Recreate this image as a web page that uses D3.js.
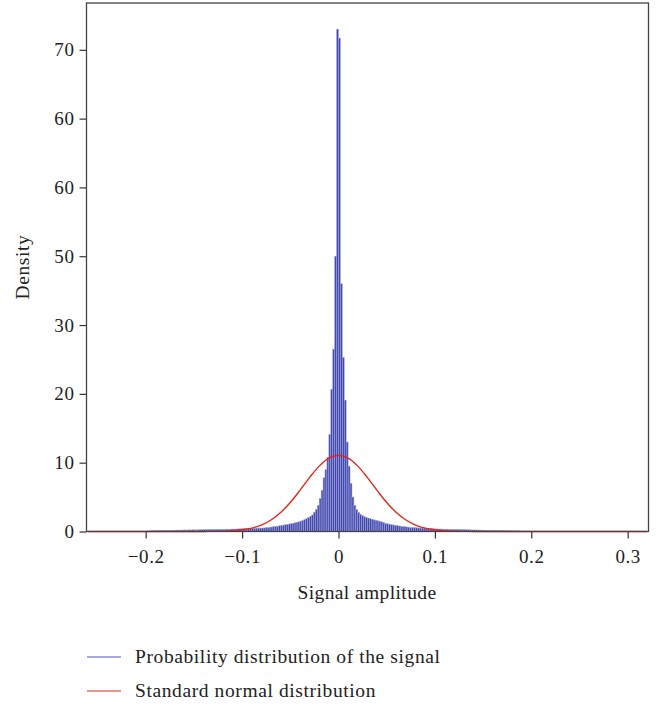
<!DOCTYPE html>
<html>
<head>
<meta charset="utf-8">
<script src="https://cdn.jsdelivr.net/npm/d3@7"></script>
<style>
  html, body { margin: 0; padding: 0; background: #fff; }
  svg { display: block; font-family: "Liberation Serif", "Times New Roman", serif; }
</style>
</head>
<body>
<div id="chart"></div>
<script>
// histogram bins: width 0.002, first bin starts at -0.2
const binStart = -0.2;
const binWidth = 0.002;
const density = [
  0.05, 0.08, 0.1, 0.12, 0.1, 0.14, 0.12, 0.15, 0.13, 0.16,
  0.15, 0.17, 0.16, 0.18, 0.17, 0.19, 0.2, 0.18, 0.21, 0.2,
  0.22, 0.2, 0.23, 0.22, 0.24, 0.23, 0.25, 0.24, 0.26, 0.25,
  0.27, 0.26, 0.28, 0.27, 0.29, 0.3, 0.28, 0.31, 0.3, 0.32,
  0.31, 0.33, 0.34, 0.32, 0.35, 0.36, 0.34, 0.37, 0.38, 0.39,
  0.4, 0.42, 0.41, 0.44, 0.45, 0.46, 0.46, 0.48, 0.49, 0.5,
  0.5, 0.52, 0.55, 0.58, 0.62, 0.66, 0.7, 0.74, 0.78, 0.83,
  0.88, 0.93, 0.98, 1.03, 1.08, 1.14, 1.2, 1.27, 1.33, 1.4,
  1.5, 1.6, 1.72, 1.85, 2.0, 2.2, 2.4, 2.8, 3.2, 3.8,
  4.8, 6.0, 7.8, 9.0, 10.8, 14.1, 20.7, 26.5, 40, 73,
  71.7, 36, 25.3, 19.1, 13.0, 9.5, 7.0, 5.0, 3.8, 3.2,
  2.8, 2.5, 2.3, 2.15, 2.05, 1.95, 1.85, 1.78, 1.7, 1.62,
  1.55, 1.48, 1.4, 1.3, 1.2, 1.12, 1.06, 1.0, 0.95, 0.9,
  0.85, 0.8, 0.75, 0.72, 0.69, 0.66, 0.63, 0.6, 0.58, 0.56,
  0.54, 0.52, 0.5, 0.48, 0.46, 0.45, 0.43, 0.42, 0.4, 0.38,
  0.37, 0.36, 0.35, 0.35, 0.34, 0.33, 0.33, 0.32, 0.31, 0.3,
  0.3, 0.29, 0.28, 0.28, 0.27, 0.26, 0.25, 0.25, 0.24, 0.23,
  0.22, 0.22, 0.21, 0.2, 0.2, 0.19, 0.18, 0.18, 0.17, 0.16,
  0.16, 0.15, 0.15, 0.14, 0.13, 0.13, 0.12, 0.12, 0.11, 0.1,
  0.1, 0.09, 0.09, 0.08, 0.08, 0.07, 0.07, 0.06, 0.06, 0.05,
  0.05, 0.05, 0.04, 0.04, 0.03, 0.03, 0.03, 0.02, 0.02, 0.02
];

// normal curve
const curveX = [
  -0.26, -0.2, -0.15, -0.14, -0.13, -0.12, -0.11, -0.1, -0.09, -0.08, -0.07, -0.06,
  -0.05, -0.04, -0.03, -0.02, -0.01, 0, 0.01, 0.02, 0.03, 0.04, 0.05, 0.06,
  0.07, 0.08, 0.09, 0.1, 0.11, 0.12, 0.13, 0.14, 0.15, 0.2, 0.32
];
const curveY = [
  0, 0, 0, 0.01, 0.02, 0.05, 0.11, 0.25, 0.49, 0.94, 1.67, 2.76,
  4.22, 5.98, 7.83, 9.5, 10.66, 11.08, 10.66, 9.5, 7.83, 5.98, 4.22, 2.76,
  1.67, 0.94, 0.49, 0.25, 0.11, 0.05, 0.02, 0.01, 0, 0, 0
];

const xTicks = [-0.2, -0.1, 0, 0.1, 0.2, 0.3];
const yTicks = [0, 10, 20, 30, 40, 50, 60, 70];
const yTickLabels = ["0", "10", "20", "30", "50", "60", "60", "70"];

const legendItems = [
  { label: "Probability distribution of the signal", color: "#4b52c4" },
  { label: "Standard normal distribution", color: "#e3261c" }
];

const W = 657, H = 706;
const margin = { top: 3, right: 8.5, bottom: 174.5, left: 86.5 };
const width = W - margin.left - margin.right;
const height = H - margin.top - margin.bottom;

const svg = d3.select("#chart").append("svg")
  .attr("width", W)
  .attr("height", H);

const g = svg.append("g")
  .attr("transform", `translate(${margin.left},${margin.top})`);

const x = d3.scaleLinear().domain([-0.2614, 0.3216]).range([0, width]);
const y = d3.scaleLinear().domain([0, 76.8]).range([height, 0]);

// bars
g.append("g").selectAll("rect")
  .data(density)
  .join("rect")
  .attr("x", (d, i) => x(binStart + i * binWidth))
  .attr("width", (d, i) => x(binStart + (i + 1) * binWidth) - x(binStart + i * binWidth))
  .attr("y", d => y(d))
  .attr("height", d => y(0) - y(d))
  .attr("fill", "#4349ad")
  .attr("stroke", "#a4a8de")
  .attr("stroke-width", 0.5);

// normal curve
const pts = curveX.map((v, i) => [v, curveY[i]]);
g.append("path")
  .datum(pts)
  .attr("fill", "none")
  .attr("stroke", "#e3261c")
  .attr("stroke-width", 1.4)
  .attr("d", d3.line().x(d => x(d[0])).y(d => y(d[1])).curve(d3.curveCatmullRom));

// axes
const xAxis = g.append("g")
  .attr("transform", `translate(0,${height})`)
  .call(d3.axisBottom(x).tickValues(xTicks).tickSize(7).tickPadding(11)
    .tickFormat(d3.format(".1~f")));

const yAxis = g.append("g")
  .call(d3.axisLeft(y).tickValues(yTicks).tickSize(7).tickPadding(5)
    .tickFormat((d, i) => yTickLabels[i]));

[xAxis, yAxis].forEach(a => {
  a.select(".domain").remove();
  a.selectAll("line").attr("stroke", "#333").attr("stroke-width", 1.2);
  a.selectAll("text").attr("fill", "#222")
    .style("font-size", "19px")
    .style("letter-spacing", "0.6px")
    .style("font-family", "'Liberation Serif', serif");
});

// frame
g.append("rect")
  .attr("width", width)
  .attr("height", height)
  .attr("fill", "none")
  .attr("stroke", "#444")
  .attr("stroke-width", 1.3);

// axis titles
svg.append("text")
  .attr("x", 367)
  .attr("y", 599)
  .attr("text-anchor", "middle")
  .attr("fill", "#222")
  .style("font-size", "19.5px")
  .style("letter-spacing", "0.4px")
  .text("Signal amplitude");

svg.append("text")
  .attr("transform", `translate(29,267) rotate(-90)`)
  .attr("text-anchor", "middle")
  .attr("fill", "#222")
  .style("font-size", "19.5px")
  .style("letter-spacing", "0.6px")
  .text("Density");

// legend
const legend = svg.append("g").attr("transform", "translate(87,657)");
const item = legend.selectAll("g")
  .data(legendItems)
  .join("g")
  .attr("transform", (d, i) => `translate(0,${i * 34})`);
item.append("line")
  .attr("x1", 0).attr("x2", 34)
  .attr("stroke", d => d.color)
  .attr("stroke-width", 1.2);
item.append("text")
  .attr("x", 48)
  .attr("y", 6)
  .attr("fill", "#222")
  .style("font-size", "19.5px")
  .style("letter-spacing", "0.6px")
  .text(d => d.label);
</script>
</body>
</html>
